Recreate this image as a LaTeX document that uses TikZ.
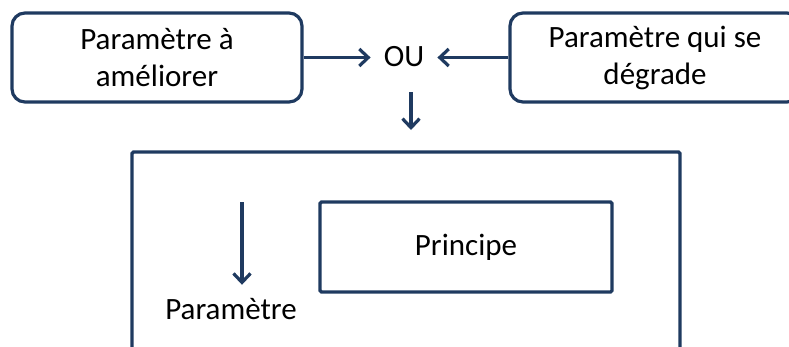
\documentclass[tikz,border=0pt]{standalone}
\usepackage{fontspec}
\setmainfont{Carlito}
\usetikzlibrary{arrows.meta}
\definecolor{navy}{RGB}{31,58,96}
\tikzset{
  line/.style={draw=navy, line width=3.2pt},
  arr/.style={line, -{Straight Barb[length=9pt,width=17pt,line width=3.2pt]}},
  rbox/.style={line, rounded corners=13pt, minimum width=290pt, minimum height=89pt,
    align=center, font=\fontsize{31}{37}\selectfont, inner sep=0pt},
  sbox/.style={line, rounded corners=1.5pt, minimum width=292pt, minimum height=90pt,
    align=center, font=\fontsize{31}{37}\selectfont, inner sep=0pt},
  txt/.style={font=\fontsize{31}{37}\selectfont}
}
\begin{document}
\begin{tikzpicture}[x=1pt,y=-1pt]
\useasboundingbox (0,0) rectangle (789,346);
\clip (0,0) rectangle (789,346);
\node[rbox] (left) at (157,57.5) {Paramètre à\\améliorer};
\node[rbox] (right) at (655,57.5) {Paramètre qui se\\dégrade};
\node[txt, inner xsep=13pt] (ou) at (404,57) {OU};
\draw[arr] (left.east) -- (left.east -| ou.west);
\draw[arr] (right.west) -- (right.west -| ou.east);
\coordinate (d1) at (411,92);
\coordinate (d2) at (411,130);
\draw[arr] (d1) -- (d2);
\node[line, rounded corners=1.5pt, minimum width=548pt, minimum height=260pt, inner sep=0pt] (big) at (406,282) {};
\node[sbox] (princ) at (466,247) {Principe};
\node[txt] (param) at (231,309) {Paramètre};
\coordinate (a1) at (242,202);
\draw[arr] (a1) -- ([yshift=10pt]a1 |- param.north);
\end{tikzpicture}
\end{document}
